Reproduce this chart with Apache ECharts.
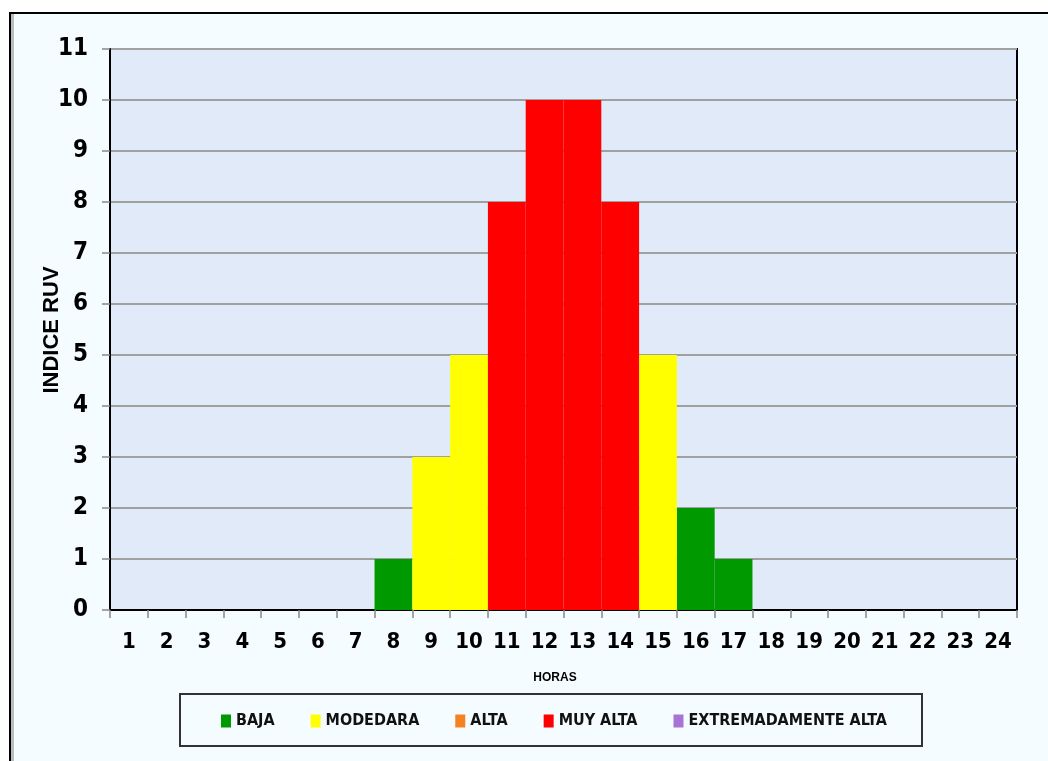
<!DOCTYPE html>
<html>
<head>
<meta charset="utf-8">
<script src="https://cdn.jsdelivr.net/npm/echarts@6/dist/echarts.min.js"></script>
<style>
  html, body { margin:0; padding:0; background:#ffffff; }
  #frame { position:absolute; left:9px; top:12px; width:1100px; height:800px;
           border-left:2px solid #000; border-top:2px solid #000; background:#F5FCFF;
           box-shadow: inset 3px 0 0 #BBBBBB; }
  #chart { position:absolute; left:0; top:0; width:1048px; height:761px; }
</style>
</head>
<body>
<div id="frame"></div>
<div id="chart"></div>
<script>
const hours = ['1','2','3','4','5','6','7','8','9','10','11','12','13','14','15','16','17','18','19','20','21','22','23','24'];
const baja      = [null,null,null,null,null,null,null,1,null,null,null,null,null,null,null,2,1,null,null,null,null,null,null,null];
const moderada  = [null,null,null,null,null,null,null,null,3,5,null,null,null,null,5,null,null,null,null,null,null,null,null,null];
const alta      = [null,null,null,null,null,null,null,null,null,null,null,null,null,null,null,null,null,null,null,null,null,null,null,null];
const muyAlta   = [null,null,null,null,null,null,null,null,null,null,8,10,10,8,null,null,null,null,null,null,null,null,null,null];
const extrema   = [null,null,null,null,null,null,null,null,null,null,null,null,null,null,null,null,null,null,null,null,null,null,null,null];
const seriesNames = ['BAJA','MODEDARA','ALTA','MUY ALTA','EXTREMADAMENTE ALTA'];
const seriesData = [baja, moderada, alta, muyAlta, extrema];
const colors = ['#009900','#FFFF00','#F58220','#FF0000','#A774D6'];
const yTicks = {min:0, max:11, interval:1};

const narrow = "'Liberation Sans Narrow','DejaVu Sans Condensed',sans-serif";
const chart = echarts.init(document.getElementById('chart'), null, {renderer:'canvas'});
chart.setOption({
  backgroundColor: 'transparent',
  animation: false,
  color: colors,
  grid: { left:110, right:31, top:49, bottom:151, show:true, backgroundColor:'#E0EAF8', borderColor:'#000', borderWidth:2 },
  legend: {
    data: seriesNames, left: 216, top: 708, icon: 'rect', itemWidth: 10, itemHeight: 13, itemGap: 36,
    textStyle: { fontFamily: narrow, fontWeight:'bold', fontSize: 16, color:'#111' }
  },
  xAxis: {
    type:'category', data: hours, boundaryGap:true,
    axisLine:{ lineStyle:{ color:'#000', width:2 } },
    axisTick:{ show:true, length:8, lineStyle:{ color:'#888', width:1.5 } },
    axisLabel:{ interval:0, margin:21, fontFamily:narrow, fontWeight:'bold', fontSize:22, color:'#000' },
    splitLine:{ show:false }
  },
  yAxis: {
    type:'value', min:yTicks.min, max:yTicks.max, interval:yTicks.interval,
    axisLine:{ show:true, lineStyle:{ color:'#000', width:2 } },
    axisTick:{ show:true, length:8, lineStyle:{ color:'#888', width:1.5 } },
    axisLabel:{ margin:22, fontFamily:narrow, fontWeight:'bold', fontSize:24, color:'#000' },
    splitLine:{ show:true, lineStyle:{ color:'#A0A0A0', width:2 } }
  },
  graphic: [
    { type:'text', x:52, y:330, rotation:Math.PI/2, style:{ text:'INDICE RUV', fontFamily:"'Liberation Sans', Arial, sans-serif", fontWeight:'bold', fontSize:22, fill:'#000', textAlign:'center', textVerticalAlign:'middle' } },
    { type:'text', x:555, y:678, style:{ text:'HORAS', fontFamily:"'Liberation Sans', Arial, sans-serif", fontWeight:'bold', fontSize:12, fill:'#000', textAlign:'center', textVerticalAlign:'middle' } },
    { type:'rect', shape:{ x:180, y:694, width:742, height:52 }, style:{ fill:'transparent', stroke:'#333', lineWidth:2 }, z:-1 }
  ],
  series: seriesNames.map((n,i)=>({
    name:n, type:'bar', data: seriesData[i], barGap:'-100%', barCategoryGap:'0%',
    itemStyle:{ color: colors[i] }
  }))
});
</script>
</body>
</html>
